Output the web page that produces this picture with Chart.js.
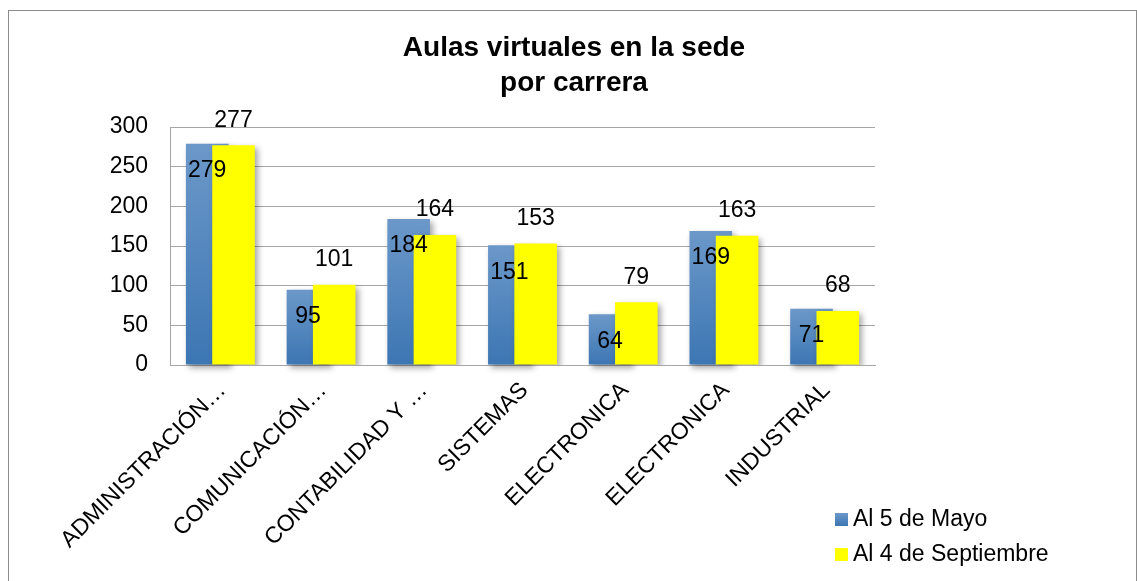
<!DOCTYPE html>
<html>
<head>
<meta charset="utf-8">
<title>Aulas virtuales en la sede por carrera</title>
<script src="https://cdn.jsdelivr.net/npm/chart.js@4.4.1/dist/chart.umd.min.js"></script>
<style>
  html, body { margin: 0; padding: 0; background: #fff; }
  #wrap { position: relative; width: 1137px; height: 581px; overflow: hidden; }
  #frame { position: absolute; left: 8px; top: 10px; width: 1129px; height: 580px;
           border: 1px solid #8c8c8c; box-sizing: border-box; pointer-events: none; }
  #chart { position: absolute; left: 0; top: 0; }
  .leg { position: absolute; left: 835px; font: 23px "Liberation Sans", Arial, sans-serif;
         line-height: 23px; color: #000; white-space: nowrap; }
  .leg .box { position: absolute; left: 0; width: 13px; height: 13px; top: 6px; }
  .leg .txt { position: absolute; left: 18px; top: 0; }
</style>
</head>
<body>
<div id="wrap">
  <canvas id="chart" width="1137" height="581"></canvas>
  <div id="frame"></div>
  <div class="leg" style="top:507px"><span class="box" style="background:linear-gradient(#6c98c9,#3c76b3)"></span><span class="txt">Al 5 de Mayo</span></div>
  <div class="leg" style="top:542px"><span class="box" style="background:#ffff00"></span><span class="txt">Al 4 de Septiembre</span></div>
</div>
<script>
'use strict';

var categories = [
  "ADMINISTRACIÓN…",
  "COMUNICACIÓN…",
  "CONTABILIDAD Y …",
  "SISTEMAS",
  "ELECTRONICA",
  "ELECTRONICA",
  "INDUSTRIAL"
];
var seriesNames = ["Al 5 de Mayo", "Al 4 de Septiembre"];
var mayo = [279, 95, 184, 151, 64, 169, 71];
var septiembre = [277, 101, 164, 153, 79, 163, 68];
var yTicks = [0, 50, 100, 150, 200, 250, 300];

var FONT = '"Liberation Sans", Arial, sans-serif';

var blueFill = function(c) {
  if (c.type !== 'data' || !c.chart.chartArea) return '#4f81bd';
  var y = c.chart.scales.y;
  var top = y.getPixelForValue(c.raw);
  var g = c.chart.ctx.createLinearGradient(0, top, 0, y.getPixelForValue(0));
  g.addColorStop(0, '#6c98c9');
  g.addColorStop(1, '#3c76b3');
  return g;
};

var setShadow = function(ctx) {
  ctx.shadowColor = 'rgba(0,0,0,0.35)';
  ctx.shadowBlur = 6;
  ctx.shadowOffsetX = 3;
  ctx.shadowOffsetY = 3;
};

// blue bars are drawn first so the yellow ones sit on top of them
var overlapPlugin = {
  id: 'overlap',
  beforeDatasetsDraw: function(chart) {
    var ctx = chart.ctx;
    ctx.save();
    setShadow(ctx);
    chart.getDatasetMeta(0).controller.draw();
    ctx.restore();
  },
  beforeDatasetDraw: function(chart, args) {
    if (args.index === 0) return false;
    chart.ctx.save();
    setShadow(chart.ctx);
  },
  afterDatasetDraw: function(chart, args) {
    if (args.index !== 0) chart.ctx.restore();
  }
};

var valueLabels = {
  id: 'valueLabels',
  afterDatasetsDraw: function(chart) {
    var ctx = chart.ctx;
    ctx.save();
    ctx.font = '23px ' + FONT;
    ctx.fillStyle = '#000';
    ctx.textAlign = 'center';
    ctx.textBaseline = 'middle';
    chart.data.datasets.forEach(function(ds, i) {
      var meta = chart.getDatasetMeta(i);
      meta.data.forEach(function(bar, j) {
        var dy = i === 0 ? 27 : -25;
        ctx.fillText(String(ds.data[j]), bar.x, bar.y + dy);
      });
    });
    ctx.restore();
  }
};

var ctx = document.getElementById('chart').getContext('2d');
var chart = new Chart(ctx, {
  type: 'bar',
  data: {
    labels: categories,
    datasets: [
      {
        label: seriesNames[0],
        data: mayo,
        backgroundColor: blueFill,
        categoryPercentage: 0.522,
        barPercentage: 1.62
      },
      {
        label: seriesNames[1],
        data: septiembre,
        backgroundColor: '#ffff00',
        categoryPercentage: 0.522,
        barPercentage: 1.62
      }
    ]
  },
  options: {
    responsive: false,
    animation: false,
    layout: { padding: { left: 11, right: 0, top: 11, bottom: 0 } },
    plugins: {
      legend: { display: false },
      tooltip: { enabled: false },
      title: {
        display: true,
        text: ['Aulas virtuales en la sede', 'por carrera'],
        color: '#000',
        font: { family: FONT, size: 28, weight: 'bold', lineHeight: 1.25 },
        padding: { top: 20, bottom: 26 }
      }
    },
    scales: {
      x: {
        grid: { display: false, drawTicks: false },
        border: { display: true, color: '#a6a6a6', width: 1 },
        ticks: {
          color: '#000',
          font: { family: FONT, size: 23 },
          autoSkip: false,
          maxRotation: 45,
          minRotation: 45,
          padding: 12,
          labelOffset: 2
        },
        afterFit: function(scale) { scale.height = 216; }
      },
      y: {
        min: 0,
        max: 300,
        afterBuildTicks: function(scale) {
          scale.ticks = yTicks.map(function(v) { return { value: v }; });
        },
        grid: { color: '#a6a6a6', lineWidth: 1, drawTicks: false },
        border: { display: true, color: '#a6a6a6', width: 1 },
        ticks: {
          color: '#000',
          font: { family: FONT, size: 23 },
          padding: 22
        },
        afterFit: function(scale) { scale.width = 159; }
      },
      spacer: {
        type: 'linear',
        position: 'right',
        display: true,
        grid: { display: false, drawTicks: false },
        border: { display: false },
        ticks: { display: false },
        afterFit: function(scale) { scale.width = 262; }
      }
    }
  },
  plugins: [overlapPlugin, valueLabels]
});
</script>
</body>
</html>
